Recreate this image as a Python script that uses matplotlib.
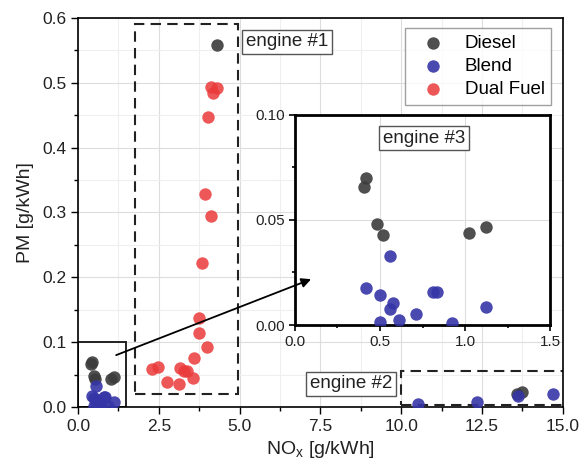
import matplotlib
matplotlib.use('Agg')
import matplotlib.pyplot as plt
from matplotlib.patches import Rectangle
from matplotlib.ticker import MultipleLocator, FormatStrFormatter

plt.rcParams['font.family'] = ['Liberation Sans', 'DejaVu Sans']

# engine #3 (low NOx corner, also shown in the inset)
diesel3_x = [0.418, 0.404, 0.482, 0.516, 1.022, 1.124]
diesel3_y = [0.0701, 0.0656, 0.0482, 0.0430, 0.0437, 0.0467]
blend3_x = [0.561, 0.418, 0.500, 0.575, 0.559, 0.712, 0.810, 0.834, 1.124, 0.500, 0.612, 0.924]
blend3_y = [0.0329, 0.0176, 0.0141, 0.0106, 0.0076, 0.0054, 0.0156, 0.0156, 0.0084, 0.0013, 0.0024, 0.0011]

# engine #1
diesel1_x = [4.30]
diesel1_y = [0.558]
dual_x = [4.11, 4.30, 4.19, 4.03, 3.93, 4.11, 3.84, 3.75, 3.75, 4.00, 3.59,
          2.28, 2.47, 2.74, 3.12, 3.17, 3.28, 3.38, 3.55]
dual_y = [0.493, 0.492, 0.484, 0.447, 0.329, 0.295, 0.222, 0.138, 0.114, 0.093, 0.075,
          0.058, 0.062, 0.039, 0.036, 0.060, 0.056, 0.055, 0.045]

# engine #2
diesel2_x = [13.74, 13.57]
diesel2_y = [0.0236, 0.0200]
blend2_x = [10.51, 12.34, 13.63, 14.70]
blend2_y = [0.0040, 0.0080, 0.0165, 0.0195]

c_diesel = '#3c3c3c'
c_blend = '#3535a8'
c_dual = '#ea3a3a'

fig = plt.figure(figsize=(5.84, 4.70), dpi=100)
ax = fig.add_axes([0.1336, 0.134, 0.830, 0.828])

ms = 80
ax.scatter(diesel1_x + diesel2_x + diesel3_x, diesel1_y + diesel2_y + diesel3_y,
           s=ms, color=c_diesel, alpha=0.9, lw=0, label='Diesel', zorder=3)
ax.scatter(blend2_x + blend3_x, blend2_y + blend3_y,
           s=ms, color=c_blend, alpha=0.9, lw=0, label='Blend', zorder=3)
ax.scatter(dual_x, dual_y, s=ms, color=c_dual, alpha=0.85, lw=0, label='Dual Fuel', zorder=3)

ax.set_xlim(0, 15)
ax.set_ylim(0, 0.6)
ax.xaxis.set_major_locator(MultipleLocator(2.5))
ax.xaxis.set_minor_locator(MultipleLocator(1.25))
ax.yaxis.set_major_locator(MultipleLocator(0.1))
ax.yaxis.set_minor_locator(MultipleLocator(0.05))
ax.xaxis.set_major_formatter(FormatStrFormatter('%.1f'))
ax.yaxis.set_major_formatter(FormatStrFormatter('%.1f'))
ax.grid(which='major', color='#dddddd', lw=0.8)
ax.grid(which='minor', color='#efefef', lw=0.8)
ax.set_axisbelow(True)
ax.tick_params(which='both', direction='out', top=False, right=False, labelsize=12.5,
               labelcolor='#222222')
ax.tick_params(which='major', length=5, width=1)
ax.tick_params(which='minor', length=3, width=1)
for s in ax.spines.values():
    s.set_linewidth(1.2)
ax.set_xlabel('NO$_\\mathregular{x}$ [g/kWh]', fontsize=14, labelpad=4, color='#222222')
ax.set_ylabel('PM [g/kWh]', fontsize=14, labelpad=6, color='#222222')

# boxes around engines
ax.add_patch(Rectangle((1.75, 0.02), 3.2, 0.571, fill=False, ls=(0, (5, 3)), lw=1.5, ec='#222222', zorder=2))
ax.add_patch(Rectangle((10.0, 0.003), 5.2, 0.052, fill=False, ls=(0, (5, 3)), lw=1.5, ec='#222222',
                       zorder=2, clip_on=True))
ax.add_patch(Rectangle((0, 0), 1.5, 0.1, fill=False, lw=1.4, ec='#222222', zorder=2))

box = dict(boxstyle='square,pad=0.2', fc='white', ec='#555555', lw=1)
ax.text(5.2, 0.563, 'engine #1', fontsize=13.5, va='center', ha='left', bbox=box, color='#222222')
ax.text(8.44, 0.0355, 'engine #2', fontsize=13.5, va='center', ha='center', bbox=box, color='#222222')

leg = ax.legend(loc='upper right', bbox_to_anchor=(0.976, 0.974), fontsize=13.5, frameon=True,
                fancybox=False, edgecolor='#888888', handletextpad=0.6, borderpad=0.35,
                labelspacing=0.33, scatterpoints=1, borderaxespad=0, handlelength=2.2)
leg.get_frame().set_linewidth(1)

# inset for engine #3
ins = fig.add_axes([0.505, 0.3085, 0.437, 0.447])
ins.scatter(diesel3_x, diesel3_y, s=ms, color=c_diesel, alpha=0.9, lw=0, zorder=3)
ins.scatter(blend3_x, blend3_y, s=ms, color=c_blend, alpha=0.9, lw=0, zorder=3)
ins.set_xlim(0, 1.5)
ins.set_ylim(0, 0.10)
ins.xaxis.set_major_locator(MultipleLocator(0.5))
ins.xaxis.set_minor_locator(MultipleLocator(0.25))
ins.yaxis.set_major_locator(MultipleLocator(0.05))
ins.yaxis.set_minor_locator(MultipleLocator(0.025))
ins.xaxis.set_major_formatter(FormatStrFormatter('%.1f'))
ins.yaxis.set_major_formatter(FormatStrFormatter('%.2f'))
ins.grid(which='major', color='#dddddd', lw=0.8)
ins.set_axisbelow(True)
ins.tick_params(which='both', direction='out', top=False, right=False, labelsize=11,
                labelcolor='#222222')
ins.tick_params(which='major', length=4, width=1.2)
ins.tick_params(which='minor', length=2.5, width=1.2)
for s in ins.spines.values():
    s.set_linewidth(2)
ins.text(0.76, 0.089, 'engine #3', fontsize=13.5, va='center', ha='center', bbox=box, color='#222222')

ins.annotate('', xy=(0.095, 0.0218), xycoords='data', xytext=(1.18, 0.08), textcoords=ax.transData,
             arrowprops=dict(arrowstyle='-|>', color='black', lw=1.3, mutation_scale=14,
                             shrinkA=0, shrinkB=0),
             annotation_clip=False)

fig.savefig('out.png', dpi=100)
